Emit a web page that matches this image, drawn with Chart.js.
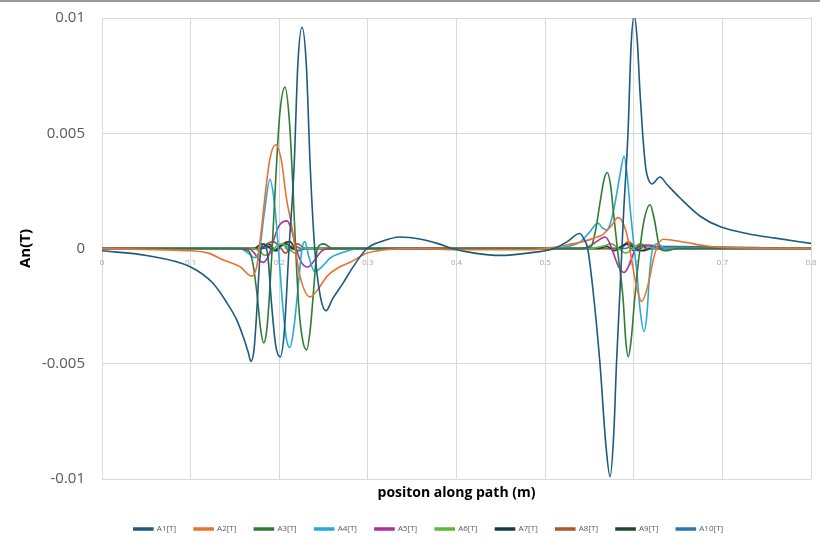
<!DOCTYPE html>
<html><head><meta charset="utf-8">
<script src="https://cdn.jsdelivr.net/npm/chart.js@4.4.1/dist/chart.umd.min.js"></script>
<style>html,body{margin:0;padding:0;background:#fff;}</style>
</head><body>
<canvas id="c" width="820" height="541"></canvas>
<script>
const seriesNames = ['A1[T]','A2[T]','A3[T]','A4[T]','A5[T]','A6[T]','A7[T]','A8[T]','A9[T]','A10[T]'];
const seriesColors = ['#1d5a7e','#e97132','#2e7d32','#29a8de','#a8329c','#5cb83c','#163c4e','#b0552a','#1f4a28','#2b78a8'];
const xTicks = [0,0.1,0.2,0.3,0.4,0.5,0.6,0.7,0.8];
const yTicks = [-0.01,-0.005,0,0.005,0.01];

const a1X = [0,0.05,0.1,0.125,0.14,0.152,0.16,0.165,0.168,0.1715,0.175,0.178,0.1825,0.187,0.1915,0.196,0.201,0.2055,0.211,0.2167,0.221,0.2257,0.2305,0.235,0.24,0.246,0.2528,0.26,0.272,0.285,0.299,0.315,0.336,0.36,0.38,0.395,0.42,0.45,0.48,0.51,0.525,0.539,0.544,0.548,0.554,0.5619,0.5685,0.5733,0.5775,0.5805,0.5845,0.5885,0.5935,0.597,0.6005,0.604,0.607,0.610,0.6135,0.6165,0.6205,0.6296,0.637,0.652,0.675,0.697,0.73,0.76,0.8];
const a1Y = [-0.0001,-0.0003,-0.0008,-0.0015,-0.0023,-0.0031,-0.0039,-0.0045,-0.0049,-0.0044,-0.0025,-0.0005,0.0002,-0.0003,-0.0025,-0.0042,-0.0047,-0.0037,0,0.0035,0.0080,0.0096,0.0080,0.0035,0,-0.0020,-0.0027,-0.0022,-0.0015,-0.0007,0,0.0003,0.0005,0.0004,0.0002,0,-0.0002,-0.0003,-0.0002,0,0.0003,0.00065,0.0004,0,-0.0018,-0.0050,-0.0085,-0.0099,-0.0080,-0.0050,-0.0018,0.0015,0.0050,0.0088,0.0101,0.0090,0.0068,0.0050,0.0035,0.0030,0.0028,0.0031,0.0028,0.0022,0.0014,0.00095,0.00063,0.00045,0.00022];

const a2X = [0,0.06,0.1,0.12,0.137,0.156,0.169,0.1745,0.178,0.181,0.184,0.1895,0.196,0.2025,0.208,0.214,0.2185,0.2234,0.2347,0.245,0.254,0.268,0.28,0.299,0.32,0.36,0.4,0.48,0.51,0.53,0.543,0.555,0.565,0.575,0.582,0.588,0.5935,0.599,0.604,0.609,0.616,0.624,0.633,0.645,0.66,0.68,0.7,0.8];
const a2Y = [0,-0.00005,-0.0001,-0.0002,-0.0005,-0.0008,-0.0012,-0.0008,0.0002,0.0012,0.0023,0.0039,0.0045,0.0038,0.0022,0.0010,-0.0001,-0.0012,-0.0021,-0.0017,-0.0012,-0.0008,-0.0006,-0.0002,-0.00005,0,-0.00005,-0.00005,0.00005,0.0002,0.0003,0.00045,0.0006,0.001,0.00134,0.0011,0.0004,-0.0008,-0.0018,-0.0023,-0.0016,-0.0002,0.0004,0.00035,0.00026,0.00012,0.00005,0];

const a3X = [0,0.15,0.165,0.17,0.175,0.179,0.1825,0.186,0.189,0.192,0.196,0.2005,0.2065,0.2115,0.215,0.2185,0.222,0.2265,0.231,0.235,0.239,0.243,0.25,0.26,0.54,0.552,0.557,0.562,0.5665,0.5702,0.574,0.577,0.5815,0.588,0.591,0.5937,0.597,0.601,0.607,0.6115,0.6184,0.623,0.6296,0.635,0.65,0.8];
const a3Y = [0,0,-0.0001,-0.0006,-0.0020,-0.0035,-0.0041,-0.0035,-0.0020,0,0.0030,0.0058,0.0070,0.0055,0.0030,0,-0.0025,-0.0040,-0.0044,-0.0035,-0.0017,0,0.0002,0,0,0.0001,0.0008,0.0020,0.0030,0.0033,0.0027,0.0016,0,-0.0022,-0.0040,-0.0047,-0.0040,-0.0022,0,0.0012,0.0019,0.0013,0,-0.0001,0,0];

const a4X = [0,0.155,0.165,0.172,0.178,0.183,0.1896,0.195,0.199,0.204,0.208,0.212,0.216,0.221,0.2257,0.229,0.233,0.24,0.248,0.258,0.27,0.29,0.5,0.52,0.54,0.55,0.5597,0.5645,0.5695,0.5745,0.579,0.5845,0.589,0.5925,0.5965,0.6005,0.6035,0.607,0.6116,0.615,0.618,0.6215,0.627,0.635,0.8];
const a4Y = [0,0,-0.0002,-0.0004,0,0.0015,0.0030,0.0018,0,-0.0025,-0.0039,-0.0043,-0.0036,-0.0018,0,0.0003,-0.0003,-0.0010,-0.0008,-0.0004,-0.0002,0,0,0.00005,0.0003,0.0007,0.0011,0.0009,0.0008,0.0012,0.0020,0.0032,0.0040,0.0032,0.0015,0,-0.0010,-0.0026,-0.0036,-0.0028,-0.0010,0,0.0002,0,0];

const a5X = [0,0.165,0.172,0.177,0.182,0.188,0.193,0.2,0.2087,0.214,0.219,0.225,0.232,0.24,0.248,0.26,0.54,0.55,0.558,0.5675,0.572,0.577,0.583,0.589,0.595,0.601,0.608,0.616,0.622,0.628,0.8];
const a5Y = [0,0,-0.0002,-0.0005,-0.0006,-0.0003,0.0003,0.0010,0.0012,0.0008,0,-0.0006,-0.0008,-0.0005,-0.0001,0,0,0.0001,0.0003,0.0005,0.0003,-0.0002,-0.0008,-0.00104,-0.0007,-0.0001,0.0001,0.00015,0.00013,0,0];

const a6X = [0,0.17,0.177,0.184,0.19,0.197,0.204,0.211,0.218,0.226,0.235,0.55,0.565,0.575,0.583,0.591,0.599,0.607,0.615,0.623,0.632,0.8];
const a6Y = [0,0,-0.0001,-0.0003,-0.0002,0.0001,0.0002,0,-0.0002,0,0,0,0.0001,0.0002,0,-0.0002,0,0.0002,0.0001,0,0,0];

const a7X = [0,0.172,0.18,0.187,0.194,0.201,0.208,0.215,0.222,0.23,0.56,0.57,0.578,0.586,0.594,0.602,0.61,0.62,0.8];
const a7Y = [0,0,0.0002,0.0001,-0.0001,0.0001,0.0002,0,-0.0001,0,0,0.0001,-0.0001,0.0001,0.0002,0,-0.0001,0,0];

const a8X = [0,0.178,0.186,0.193,0.2,0.207,0.214,0.221,0.229,0.58,0.587,0.594,0.601,0.608,0.615,0.8];
const a8Y = [0,0,0.0002,0.0003,0.0001,-0.0002,0.0001,0.0002,0,0,0.0001,0.0003,0.0001,-0.0001,0,0];

const a9X = [0,0.18,0.188,0.196,0.204,0.212,0.22,0.228,0.585,0.592,0.6,0.608,0.615,0.8];
const a9Y = [0,0,0.0002,-0.0001,0.0002,0.0003,-0.0001,0,0,0.0002,-0.0001,0.0002,0,0];

const a10X = [0,0.183,0.19,0.197,0.204,0.211,0.218,0.225,0.59,0.597,0.604,0.612,0.8];
const a10Y = [0,0,0.0001,-0.0001,0.0002,-0.0001,0.0001,0,0,0.0001,-0.0001,0.0001,0];

const allX = [a1X,a2X,a3X,a4X,a5X,a6X,a7X,a8X,a9X,a10X];
const allY = [a1Y,a2Y,a3Y,a4Y,a5Y,a6Y,a7Y,a8Y,a9Y,a10Y];

const datasets = seriesNames.map((name, i) => ({
  label: name,
  data: allX[i].map((x, k) => ({x: x, y: allY[i][k]})),
  borderColor: seriesColors[i],
  backgroundColor: seriesColors[i],
  borderWidth: 1.6,
  pointRadius: 0,
  cubicInterpolationMode: 'monotone',
  xAxisID: 'x',
  yAxisID: 'y'
}));

const noPad = (axis) => { axis.paddingTop = 0; axis.paddingBottom = 0; axis.paddingLeft = 0; axis.paddingRight = 0; };

const layoutPlugin = {
  id: 'layoutFix',
  beforeLayout(chart) {
    const lg = chart.legend;
    if (lg && !lg._fixed) {
      const orig = lg.fit.bind(lg);
      lg.fit = function () { orig(); this.height = 34; };
      lg._fixed = true;
    }
  },
  afterLayout(chart) {
    const lg = chart.legend;
    if (lg) { lg.left += 23; lg.right += 23; }
  },
  beforeDraw(chart) {
    const ctx = chart.ctx;
    ctx.save();
    ctx.fillStyle = '#ffffff';
    ctx.fillRect(0, 0, chart.width, chart.height);
    ctx.fillStyle = '#9a9a9a';
    ctx.fillRect(0, 0, chart.width, 2);
    ctx.restore();
  }
};

new Chart(document.getElementById('c'), {
  type: 'line',
  data: { datasets },
  plugins: [layoutPlugin],
  options: {
    responsive: false,
    animation: false,
    devicePixelRatio: 1,
    layout: { padding: { left: 0, right: 9, top: 18, bottom: 0 } },
    plugins: {
      tooltip: { enabled: false },
      legend: {
        position: 'bottom',
        labels: {
          boxWidth: 19,
          boxHeight: 2,
          padding: 18,
          color: '#595959',
          font: { family: 'Open Sans', size: 8 }
        }
      }
    },
    scales: {
      x: {
        type: 'linear',
        min: 0, max: 0.8,
        afterBuildTicks: (axis) => { axis.ticks = xTicks.map(v => ({value: v})); },
        ticks: { display: false },
        grid: { color: '#d9d9d9', drawTicks: false },
        border: { display: false },
        title: {
          display: true,
          text: 'positon along path (m)',
          color: '#000000',
          font: { family: 'Open Sans', size: 14, weight: 'bold' },
          padding: { top: 0, bottom: 6 }
        },
        afterFit: (axis) => { axis.height = 28; noPad(axis); }
      },
      x2: {
        type: 'linear',
        axis: 'x',
        position: { y: 0 },
        min: 0, max: 0.8,
        afterBuildTicks: (axis) => { axis.ticks = xTicks.map(v => ({value: v})); },
        ticks: {
          color: '#a6a6a6',
          font: { family: 'Open Sans', size: 8 },
          padding: 9,
          maxRotation: 0,
          callback: (v) => (v === 0 ? '0' : Number(v).toFixed(1))
        },
        grid: { display: false, drawTicks: false },
        border: { display: false },
        afterFit: (axis) => { noPad(axis); }
      },
      y: {
        type: 'linear',
        min: -0.01, max: 0.01,
        afterBuildTicks: (axis) => { axis.ticks = yTicks.map(v => ({value: v})); },
        ticks: {
          color: '#595959',
          font: { family: 'Open Sans', size: 15 },
          padding: 17,
          callback: (v) => String(Math.round(v * 1000) / 1000)
        },
        grid: { color: '#d9d9d9', drawTicks: false },
        border: { display: false },
        title: {
          display: true,
          text: 'An(T)',
          color: '#000000',
          font: { family: 'Open Sans', size: 15, weight: 'bold' },
          padding: { top: 17, bottom: 0 }
        },
        afterFit: (axis) => { axis.width = 102; noPad(axis); }
      }
    }
  }
});
</script>
</body></html>
